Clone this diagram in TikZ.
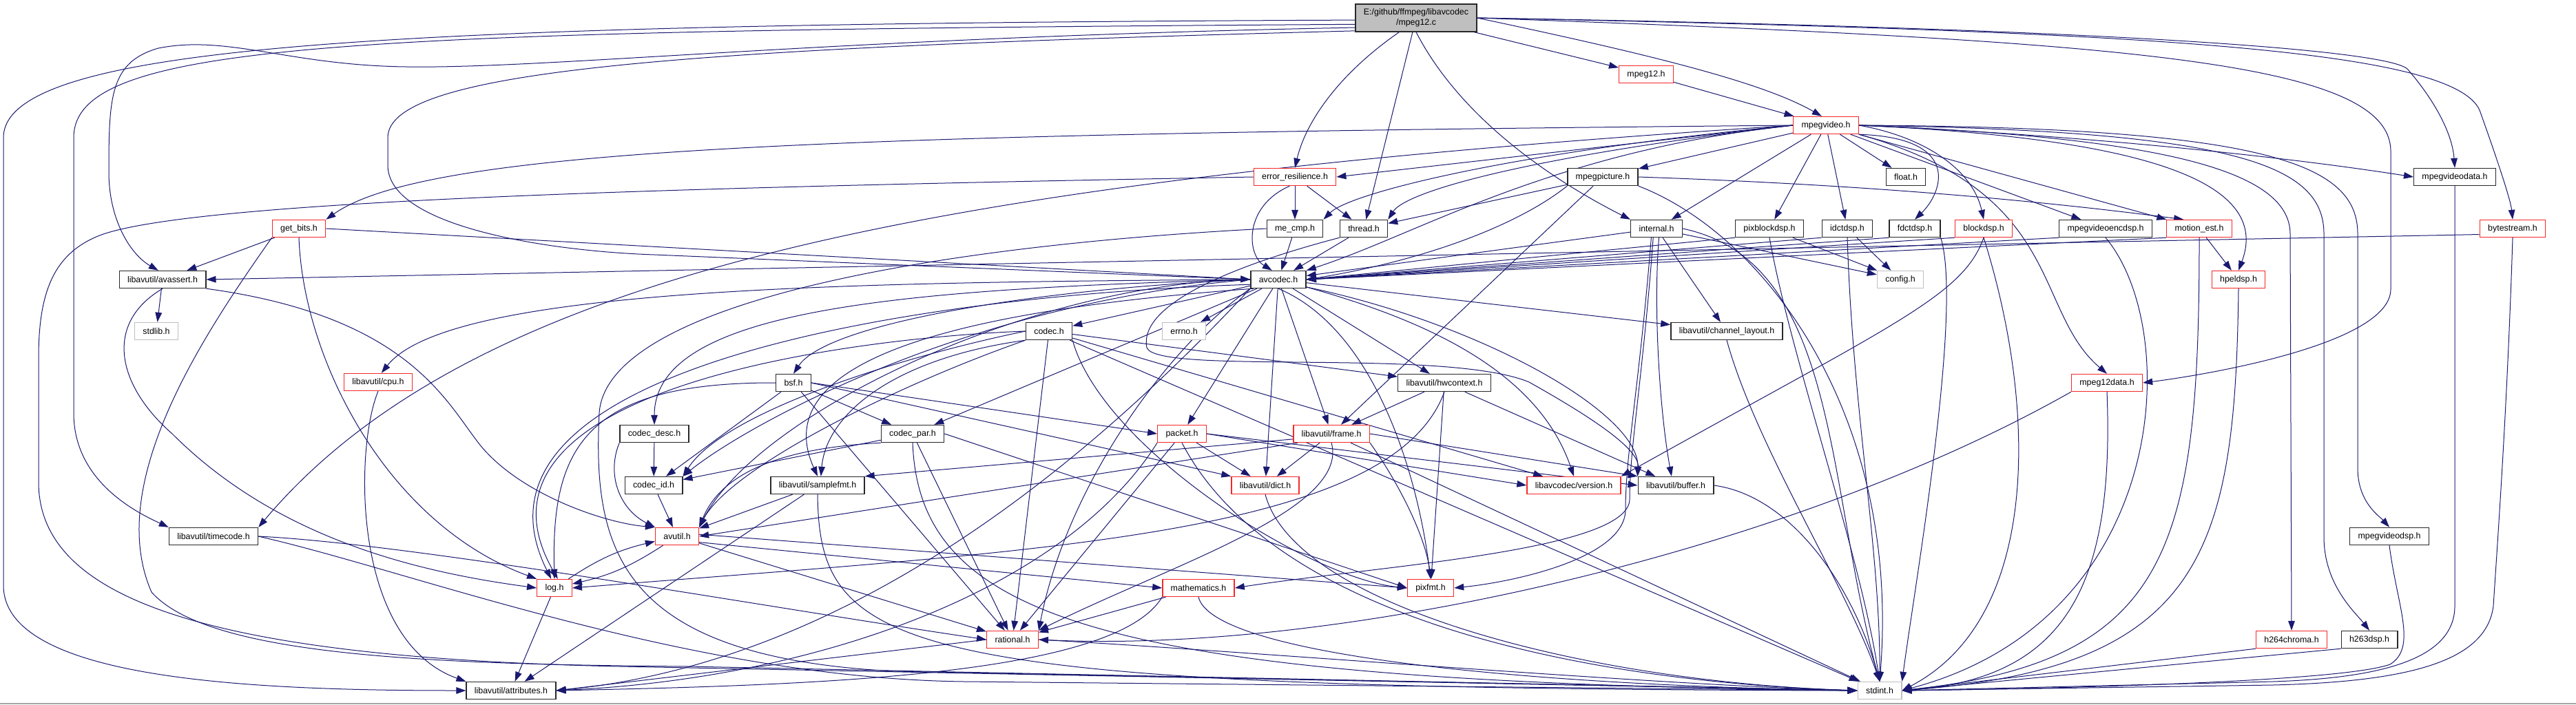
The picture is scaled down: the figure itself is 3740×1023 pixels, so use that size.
\documentclass[tikz,border=0pt]{standalone}
\usepackage{fontspec}
\newfontfamily\incfont{Liberation Sans}
\usetikzlibrary{arrows.meta}
\definecolor{edgeblue}{RGB}{25,25,112}
\definecolor{truncred}{RGB}{245,40,40}
\definecolor{sysgray}{RGB}{191,191,191}
\definecolor{boxline}{RGB}{40,40,40}

\pgfdeclarelayer{bg}
\pgfdeclarelayer{edges}
\pgfsetlayers{bg,edges,main}

\tikzset{
  inc/.style={draw=boxline, fill=white, line width=0.7pt, font=\incfont\fontsize{6.2}{7.4}\selectfont,
    minimum height=12.5pt, inner xsep=5.9pt, inner ysep=0pt},
  inctrunc/.style={inc, draw=truncred},
  incsys/.style={inc, draw=sysgray},
  incroot/.style={inc, fill=sysgray, align=center, minimum height=20pt},
  dep/.style={draw=edgeblue, line width=0.5pt, -{Triangle[length=7pt,width=4.8pt]}}
}

\begin{document}
\begin{tikzpicture}[x=0.5pt, y=-0.5pt]
        \useasboundingbox (0,0) rectangle (3740,1023);
        \begin{pgfonlayer}{bg}
        \fill[white] (0,0) rectangle (3740,1023);
        \fill[black!35] (0,1020.5) rectangle (3740,1023);
        \end{pgfonlayer}

        % files
        \node[incroot] (top) at (2056,26) {E:/github/ffmpeg/libavcodec\\/mpeg12.c};
        \node[inctrunc] (mpghdr) at (2390,108) {mpeg12.h};
        \node[inctrunc] (mvideo) at (2651,182) {mpegvideo.h};
        \node[inctrunc] (errres) at (1880,257) {error\_resilience.h};
        \node[inc] (mpic) at (2327,257) {mpegpicture.h};
        \node[inc] (floath) at (2767,257) {float.h};
        \node[inc] (mvdata) at (3564,257) {mpegvideodata.h};
        \node[inctrunc] (getbits) at (434,332) {get\_bits.h};
        \node[inc] (mecmp) at (1880,332) {me\_cmp.h};
        \node[inc] (thread) at (1980,332) {thread.h};
        \node[inc] (internal) at (2405,332) {internal.h};
        \node[inc] (pixblk) at (2569,332) {pixblockdsp.h};
        \node[inc] (idct) at (2682,332) {idctdsp.h};
        \node[inc] (fdct) at (2780,332) {fdctdsp.h};
        \node[inctrunc] (blkdsp) at (2880,332) {blockdsp.h};
        \node[inc] (mvenc) at (3057,332) {mpegvideoencdsp.h};
        \node[inctrunc] (motion) at (3193,332) {motion\_est.h};
        \node[inctrunc] (bytestr) at (3648,332) {bytestream.h};
        \node[inc] (avassert) at (236,406) {libavutil/avassert.h};
        \node[inc] (avcodec) at (1856,406) {avcodec.h};
        \node[incsys] (config) at (2759,406) {config.h};
        \node[inctrunc] (hpel) at (3250,406) {hpeldsp.h};
        \node[incsys] (stdlib) at (227,481) {stdlib.h};
        \node[inc] (codec) at (1523,481) {codec.h};
        \node[incsys] (errno) at (1719,481) {errno.h};
        \node[inc] (chlayout) at (2507,481) {libavutil/channel\_layout.h};
        \node[inctrunc] (cpu) at (549,555) {libavutil/cpu.h};
        \node[inc] (bsf) at (1152,556) {bsf.h};
        \node[inc] (hwctx) at (2097,556) {libavutil/hwcontext.h};
        \node[inctrunc] (mpgdata) at (3059,556) {mpeg12data.h};
        \node[inc] (cdesc) at (950,630) {codec\_desc.h};
        \node[inc] (cpar) at (1325,630) {codec\_par.h};
        \node[inctrunc] (packet) at (1716,630) {packet.h};
        \node[inctrunc] (frame) at (1933,630) {libavutil/frame.h};
        \node[inc] (cid) at (949,705) {codec\_id.h};
        \node[inc] (sfmt) at (1187,705) {libavutil/samplefmt.h};
        \node[inctrunc] (dict) at (1837,705) {libavutil/dict.h};
        \node[inctrunc] (version) at (2285,705) {libavcodec/version.h};
        \node[inc] (buffer) at (2433,705) {libavutil/buffer.h};
        \node[inc] (timecode) at (310,779) {libavutil/timecode.h};
        \node[inctrunc] (avutil) at (983,779) {avutil.h};
        \node[inc] (mvdsp) at (3469,779) {mpegvideodsp.h};
        \node[inctrunc] (log) at (805,854) {log.h};
        \node[inctrunc] (mathh) at (1740,854) {mathematics.h};
        \node[inctrunc] (pixfmt) at (2077,854) {pixfmt.h};
        \node[inctrunc] (rational) at (1470,929) {rational.h};
        \node[inctrunc] (h264c) at (3327,929) {h264chroma.h};
        \node[inc] (h263d) at (3440,929) {h263dsp.h};
        \node[inc] (attrib) at (742,1003) {libavutil/attributes.h};
        \node[incsys] (stdint) at (2729,1003) {stdint.h};

        \begin{pgfonlayer}{edges}
        % mpeg12.c
        \draw[dep] (top.182) .. controls (600,35) and (5,60) .. (5,200) -- (5,850) .. controls (5,985) and (350,1003) .. (attrib.west);
        \draw[dep] (top.186) .. controls (500,45) and (107,60) .. (107,200) -- (107,600) .. controls (107,700) and (200,745) .. (timecode.north west);
        \draw[dep] (top.189) .. controls (1200,55) and (800,100) .. (590,97) .. controls (420,95) and (330,50) .. (230,70) .. controls (160,90) and (158,140) .. (158,250) .. controls (158,320) and (190,370) .. (avassert.115);
        \draw[dep] (top.192) .. controls (1000,70) and (563,100) .. (563,200) -- (563,240) .. controls (563,330) and (800,365) .. (950,370) -- (avcodec.west);
        \draw[dep] (top.220) .. controls (1940,110) and (1895,180) .. (errres.north);
        \draw[dep] (top) -- (thread);
        \draw[dep] (top.south) .. controls (2130,190) and (2290,280) .. (internal.north west);
        \draw[dep] (top) -- (mpghdr);
        \draw[dep] (top.east) .. controls (2400,80) and (2560,120) .. (mvideo.115);
        \draw[dep] (top.east) .. controls (3000,40) and (3460,70) .. (3495,100) .. controls (3530,140) and (3560,190) .. (mvdata.north);
        \draw[dep] (top.east) .. controls (3100,45) and (3560,70) .. (3600,160) .. controls (3625,230) and (3645,290) .. (bytestr.north);
        \draw[dep] (top.east) .. controls (3100,60) and (3471,90) .. (3471,220) -- (3471,420) .. controls (3471,500) and (3200,545) .. (mpgdata.east);
        \draw[dep] (mpghdr) -- (mvideo);

        % mpegvideo.h
        \draw[dep] (mvideo) -- (floath);
        \draw[dep] (mvideo.west) .. controls (2250,220) and (2060,340) .. (avcodec.north east);
        \draw[dep] (mvideo.east) .. controls (2800,200) and (2865,250) .. (blkdsp.north);
        \draw[dep] (mvideo.west) -- (errres.east);
        \draw[dep] (mvideo.south east) .. controls (2850,200) and (2820,280) .. (fdct.north);
        \draw[dep] (mvideo.west) .. controls (1200,195) and (620,215) .. (getbits.north east);
        \draw[dep] (mvideo.east) .. controls (3150,200) and (3325,250) .. (3325,340) -- (h264c.north);
        \draw[dep] (mvideo.east) .. controls (3250,190) and (3374,240) .. (3374,340) -- (3374,780) .. controls (3374,850) and (3420,890) .. (h263d.north);
        \draw[dep] (mvideo.east) .. controls (3100,200) and (3300,260) .. (hpel.north);
        \draw[dep] (mvideo) -- (idct);
        \draw[dep] (mvideo) -- (internal);
        \draw[dep] (mvideo.west) .. controls (2200,220) and (1960,280) .. (mecmp.north east);
        \draw[dep] (mvideo) -- (motion);
        \draw[dep] (mvideo) -- (mpic);
        \draw[dep] (mvideo.east) .. controls (3300,185) and (3423,240) .. (3423,340) -- (3423,680) .. controls (3423,730) and (3455,750) .. (mvdsp.north);
        \draw[dep] (mvideo) -- (mvenc);
        \draw[dep] (mvideo.east) .. controls (3000,195) and (3300,225) .. (mvdata.west);
        \draw[dep] (mvideo) -- (pixblk);
        \draw[dep] (mvideo.south east) .. controls (3000,280) and (2950,450) .. (mpgdata.north);
        \draw[dep] (mvideo.west) .. controls (2200,230) and (2040,280) .. (thread.north east);
        \draw[dep] (mvideo.west) .. controls (1400,260) and (700,380) .. (timecode.north east);

        % error_resilience.h, mpegpicture.h
        \draw[dep] (errres.240) .. controls (1805,300) and (1810,370) .. (avcodec.125);
        \draw[dep] (errres) -- (mecmp);
        \draw[dep] (errres) -- (thread);
        \draw[dep] (errres.west) .. controls (1000,272) and (300,290) .. (150,340) .. controls (80,365) and (56,420) .. (56,520) -- (56,700) .. controls (56,870) and (300,955) .. (900,968) -- (stdint.west);
        \draw[dep] (mpic) -- (thread);
        \draw[dep] (mpic.south west) .. controls (2200,330) and (2060,380) .. (avcodec.east);
        \draw[dep] (mpic) -- (frame);
        \draw[dep] (mpic.east) .. controls (2700,268) and (2950,290) .. (motion.150);
        \draw[dep] (mpic.south east) .. controls (2560,340) and (2760,600) .. (stdint.north);

        % row of dsp headers
        \draw[dep] (mecmp) -- (avcodec);
        \draw[dep] (mecmp.west) .. controls (1300,360) and (880,450) .. (870,600) .. controls (860,800) and (900,955) .. (1300,975) -- (stdint.west);
        \draw[dep] (thread) -- (avcodec);
        \draw[dep] (thread.south west) .. controls (1850,370) and (1650,430) .. (1665,505) .. controls (1680,545) and (2100,505) .. (2220,555) .. controls (2300,600) and (2380,650) .. (buffer.north west);
        \draw[dep] (internal) -- (avcodec);
        \draw[dep] (internal) -- (chlayout);
        \draw[dep] (internal.285) .. controls (2400,450) and (2410,600) .. (buffer.115);
        \draw[dep] (internal.250) .. controls (2385,550) and (2366,650) .. (2366,725) .. controls (2366,800) and (2000,822) .. (mathh.east);
        \draw[dep] (internal.240) .. controls (2380,560) and (2360,660) .. (2360,740) .. controls (2360,810) and (2200,845) .. (pixfmt.east);
        \draw[dep] (internal) -- (config);
        \draw[dep] (internal.east) .. controls (2670,380) and (2650,700) .. (stdint.north);
        \draw[dep] (pixblk.south west) -- (avcodec.east);
        \draw[dep] (pixblk) -- (config);
        \draw[dep] (pixblk.south) .. controls (2600,520) and (2700,800) .. (stdint.north);
        \draw[dep] (idct.south west) -- (avcodec.east);
        \draw[dep] (idct) -- (config);
        \draw[dep] (idct.south) .. controls (2690,600) and (2730,800) .. (stdint.north);
        \draw[dep] (fdct.south west) -- (avcodec.east);
        \draw[dep] (fdct.south east) .. controls (2850,450) and (2780,850) .. (stdint.north east);
        \draw[dep] (blkdsp.south west) -- (avcodec.east);
        \draw[dep] (blkdsp.south) .. controls (2850,430) and (2750,470) .. (version.north east);
        \draw[dep] (blkdsp.south) .. controls (2960,600) and (2960,900) .. (stdint.east);
        \draw[dep] (mvenc.south west) -- (avcodec.east);
        \draw[dep] (mvenc.south) .. controls (3170,480) and (3150,900) .. (stdint.east);
        \draw[dep] (motion) -- (hpel);
        \draw[dep] (motion.south west) -- (avcodec.east);
        \draw[dep] (motion.south) .. controls (3193,800) and (3150,960) .. (stdint.east);
        \draw[dep] (hpel.south) .. controls (3245,800) and (3200,970) .. (stdint.east);
        \draw[dep] (bytestr.190) -- (avassert.east);
        \draw[dep] (bytestr.south) .. controls (3640,600) and (3625,800) .. (3620,880) .. controls (3610,960) and (3500,990) .. (3300,995) -- (stdint.east);
        \draw[dep] (mvdata.south) -- (3564,880) .. controls (3564,960) and (3450,985) .. (3300,990) -- (stdint.east);
        \draw[dep] (mpgdata.south west) .. controls (2600,800) and (1950,950) .. (rational.east);
        \draw[dep] (mpgdata.south) .. controls (3070,850) and (3000,985) .. (stdint.east);
        \draw[dep] (mvdsp.south) .. controls (3480,880) and (3510,940) .. (3470,965) .. controls (3400,990) and (3000,1000) .. (stdint.east);
        \draw[dep] (h264c.south west) -- (stdint.east);
        \draw[dep] (h263d.south west) -- (stdint.east);

        % get_bits.h, avassert.h
        \draw[dep] (getbits) -- (avassert);
        \draw[dep] (getbits.east) -- (avcodec.west);
        \draw[dep] (getbits.south) .. controls (440,520) and (560,760) .. (log.north west);
        \draw[dep] (getbits.south west) .. controls (300,480) and (150,700) .. (220,860) .. controls (300,950) and (600,965) .. (1000,968) -- (stdint.west);
        \draw[dep] (avassert) -- (stdlib);
        \draw[dep] (avassert.south east) .. controls (600,460) and (650,590) .. (700,650) .. controls (760,720) and (880,760) .. (avutil.north west);
        \draw[dep] (avassert.south) .. controls (150,470) and (170,560) .. (250,630) .. controls (400,780) and (600,830) .. (log.west);
        \draw[dep] (cpu.south) .. controls (515,650) and (510,930) .. (attrib.north west);

        % avcodec.h
        \draw[dep] (avcodec) -- (errno);
        \draw[dep] (avcodec.200) .. controls (1400,450) and (1110,520) .. (sfmt.north);
        \draw[dep] (avcodec.south west) .. controls (1600,650) and (1250,960) .. (attrib.east);
        \draw[dep] (avcodec.west) .. controls (1500,410) and (1100,600) .. (avutil.north east);
        \draw[dep] (avcodec.-15) .. controls (2150,470) and (2380,600) .. (buffer.north west);
        \draw[dep] (avcodec.west) .. controls (1200,410) and (650,420) .. (cpu.70);
        \draw[dep] (avcodec) -- (chlayout);
        \draw[dep] (avcodec) -- (dict);
        \draw[dep] (avcodec) -- (frame);
        \draw[dep] (avcodec) -- (hwctx);
        \draw[dep] (avcodec.190) .. controls (1300,430) and (650,540) .. (log.110);
        \draw[dep] (avcodec.south) .. controls (2000,480) and (2060,700) .. (pixfmt.north);
        \draw[dep] (avcodec.south west) .. controls (1700,500) and (1550,700) .. (rational.north east);
        \draw[dep] (avcodec.west) .. controls (1500,420) and (1200,470) .. (bsf.north);
        \draw[dep] (avcodec) -- (codec);
        \draw[dep] (avcodec.west) .. controls (1300,420) and (950,450) .. (cdesc.north);
        \draw[dep] (avcodec) -- (cpar);
        \draw[dep] (avcodec.west) .. controls (1400,440) and (1080,620) .. (cid.north east);
        \draw[dep] (avcodec) -- (packet);
        \draw[dep] (avcodec.-15) .. controls (2050,460) and (2230,530) .. (version.north);

        % codec.h, bsf.h
        \draw[dep] (codec) -- (hwctx);
        \draw[dep] (codec) -- (version);
        \draw[dep] (codec) -- (stdint);
        \draw[dep] (codec.south west) .. controls (1300,560) and (1060,680) .. (avutil.north east);
        \draw[dep] (codec.west) .. controls (1250,490) and (650,560) .. (log.70);
        \draw[dep] (codec.south east) .. controls (1600,650) and (1900,840) .. (pixfmt.west);
        \draw[dep] (codec) -- (rational);
        \draw[dep] (codec.south west) .. controls (1300,520) and (1200,600) .. (sfmt.70);
        \draw[dep] (codec.west) .. controls (1300,520) and (1050,600) .. (cid.north east);
        \draw[dep] (bsf) -- (cpar);
        \draw[dep] (bsf.east) -- (packet.west);
        \draw[dep] (bsf.east) -- (dict.north west);
        \draw[dep] (bsf) -- (cid);
        \draw[dep] (bsf.west) .. controls (850,555) and (800,650) .. (log.north);
        \draw[dep] (bsf) -- (rational);

        % codec_desc.h, codec_id.h, codec_par.h
        \draw[dep] (cdesc) -- (cid);
        \draw[dep] (cdesc.south west) .. controls (880,690) and (900,740) .. (avutil.north west);
        \draw[dep] (cid) -- (avutil);
        \draw[dep] (cpar) -- (cid);
        \draw[dep] (cpar.south west) .. controls (1150,650) and (1050,680) .. (avutil.north east);
        \draw[dep] (cpar) -- (rational);
        \draw[dep] (cpar.east) -- (pixfmt.west);
        \draw[dep] (cpar.south) .. controls (1335,900) and (1600,990) .. (stdint.west);

        % packet.h, frame.h, hwcontext.h
        \draw[dep] (packet) -- (dict);
        \draw[dep] (packet.east) -- (buffer.west);
        \draw[dep] (packet.east) -- (version.west);
        \draw[dep] (packet) -- (rational);
        \draw[dep] (packet.south west) .. controls (1550,850) and (1200,985) .. (attrib.east);
        \draw[dep] (packet.south) .. controls (1850,900) and (2300,990) .. (stdint.west);
        \draw[dep] (frame) -- (dict);
        \draw[dep] (frame.195) -- (avutil.east);
        \draw[dep] (frame.188) -- (sfmt.north east);
        \draw[dep] (frame.east) -- (buffer.north west);
        \draw[dep] (frame.south) .. controls (1960,740) and (1700,820) .. (rational.north east);
        \draw[dep] (frame.south east) .. controls (2030,700) and (2070,780) .. (pixfmt.north);
        \draw[dep] (frame) -- (stdint);
        \draw[dep] (hwctx) -- (frame);
        \draw[dep] (hwctx) -- (buffer);
        \draw[dep] (hwctx.south) .. controls (2020,780) and (1500,800) .. (log.east);
        \draw[dep] (hwctx) -- (pixfmt);

        % libavutil leaves
        \draw[dep] (sfmt) -- (avutil);
        \draw[dep] (sfmt) -- (attrib);
        \draw[dep] (sfmt.south) .. controls (1190,950) and (1300,1000) .. (stdint.west);
        \draw[dep] (dict.south) .. controls (1880,880) and (2300,990) .. (stdint.west);
        \draw[dep] (buffer.east) .. controls (2600,720) and (2690,850) .. (stdint.north);
        \draw[dep] (chlayout.south) .. controls (2550,650) and (2680,850) .. (stdint.north);
        \draw[dep] (timecode.east) .. controls (600,790) and (1100,880) .. (rational.west);
        \draw[dep] (timecode.east) .. controls (600,830) and (1000,985) .. (1400,990) -- (stdint.west);
        \draw[dep] (avutil) to[bend left=10] (log);
        \draw[dep] (avutil) -- (rational);
        \draw[dep] (avutil.-15) -- (mathh.west);
        \draw[dep] (avutil.5) -- (pixfmt.west);
        \draw[dep] (log) -- (attrib);
        \draw[dep] (log) to[bend left=10] (avutil);
        \draw[dep] (mathh) -- (rational);
        \draw[dep] (mathh.south west) .. controls (1620,980) and (1200,995) .. (attrib.east);
        \draw[dep] (mathh.south) .. controls (1760,950) and (2200,995) .. (stdint.west);
        \draw[dep] (rational.west) -- (attrib.east);
        \draw[dep] (rational.east) .. controls (1800,945) and (2400,995) .. (stdint.west);
        \end{pgfonlayer}
    \end{tikzpicture}
\end{document}
